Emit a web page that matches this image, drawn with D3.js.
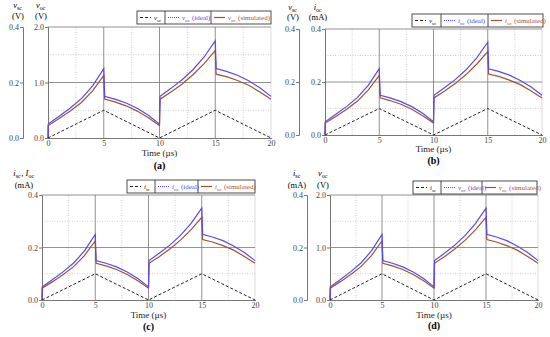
<!DOCTYPE html>
<html>
<head>
<meta charset="utf-8">
<script src="https://cdn.jsdelivr.net/npm/d3@7"></script>
<style>
  body { margin: 0; background: #fff; }
  svg { font-family: 'Liberation Serif', 'DejaVu Serif', serif; }
</style>
</head>
<body>
<div id="chart"></div>
<script>
// time grid (µs)
const time = [0, 0.02, 1, 2, 3, 4, 5, 5.08, 6, 7, 8, 9, 10, 10.05, 11, 12, 13, 14, 15, 15.08, 16, 17, 18, 19, 20];
const xTicks = [0, 5, 10, 15, 20];

// short-circuit source (triangle), in V for v_sc and in mA for i_sc (same shape)
const scTime = [0, 5, 10, 15, 20];
const scValues = [0, 0.1, 0, 0.1, 0];

// open-circuit current (mA)
const iocIdeal = [0, 0.05, 0.078, 0.108, 0.142, 0.188, 0.25, 0.15, 0.14, 0.126, 0.107, 0.082, 0.05, 0.15, 0.178, 0.209, 0.246, 0.292, 0.35, 0.25, 0.24, 0.226, 0.206, 0.181, 0.15];
const iocSim = [0, 0.045, 0.07, 0.097, 0.128, 0.17, 0.225, 0.14, 0.13, 0.116, 0.097, 0.073, 0.045, 0.14, 0.165, 0.194, 0.228, 0.268, 0.315, 0.23, 0.221, 0.207, 0.19, 0.166, 0.14];

// open-circuit voltage (V)
const vocIdeal = [0, 0.25, 0.39, 0.54, 0.71, 0.94, 1.25, 0.75, 0.7, 0.63, 0.535, 0.41, 0.25, 0.75, 0.89, 1.045, 1.23, 1.46, 1.75, 1.25, 1.2, 1.13, 1.03, 0.905, 0.75];
const vocSim = [0, 0.225, 0.35, 0.485, 0.64, 0.85, 1.125, 0.7, 0.65, 0.58, 0.485, 0.365, 0.225, 0.7, 0.825, 0.97, 1.14, 1.34, 1.575, 1.15, 1.105, 1.035, 0.95, 0.83, 0.7];

const outerTicks = [0, 0.2, 0.4];
const voltTicks = [0, 1.0, 2.0];
const mATicks = [0, 0.2, 0.4];

const blue = '#5a4ae6', brown = '#9b5533';
const serif = "'Liberation Serif', 'DejaVu Serif', serif";

const svg = d3.select('#chart').append('svg').attr('width', 550).attr('height', 337);

// parts: strings or [main, sub]
function sym(g, parts, size) {
  parts.forEach((p) => {
    if (typeof p === 'string') {
      g.append('tspan').text(p);
    } else {
      g.append('tspan').style('font-style', 'italic').text(p[0]);
      g.append('tspan').attr('dy', size * 0.25).style('font-size', size * 0.7 + 'px').text(p[1]);
      g.append('tspan').attr('dy', -size * 0.25).text('\u200a');
    }
  });
}

const panels = [
  { x0: 48, x1: 271, yTop: 27, yBot: 138, outerX: 23, inner: [0, 2], innerTicks: voltTicks,
    ideal: vocIdeal, sim: vocSim, outerLabel: [['v', 'sc']], outerUnit: '(V)', innerLabel: [['v', 'oc']], innerUnit: '(V)',
    labX: [18, 41], labY: [8, 19],
    legend: { x: 137, y: 11, w: 134, h: 13, d: [165, 211] }, leg: ['v', 'oc'], scSym: ['v', 'sc'],
    timeY: 156, tagY: 169, tag: '(a)' },
  { x0: 325, x1: 542, yTop: 29, yBot: 135, outerX: 299, inner: [0, 0.4], innerTicks: mATicks,
    ideal: iocIdeal, sim: iocSim, outerLabel: [['v', 'sc']], outerUnit: '(V)', innerLabel: [['i', 'oc']], innerUnit: '(mA)',
    labX: [293, 318], labY: [10, 20],
    legend: { x: 412, y: 14, w: 131, h: 13, d: [441, 488] }, leg: ['i', 'oc'], scSym: ['v', 'sc'],
    timeY: 152, tagY: 164, tag: '(b)' },
  { x0: 42, x1: 255, yTop: 195, yBot: 300, outerX: null, inner: [0, 0.4], innerTicks: mATicks,
    ideal: iocIdeal, sim: iocSim, outerLabel: null, innerLabel: [['i', 'sc'], ', ', ['I', 'oc']], innerUnit: '(mA)',
    labX: [null, 24], labY: [176, 188],
    legend: { x: 127, y: 180, w: 128, h: 13, d: [155, 198] }, leg: ['i', 'oc'], scSym: ['i', 'sc'],
    timeY: 318, tagY: 330, tag: '(c)' },
  { x0: 330, x1: 538, yTop: 195, yBot: 300, outerX: 307, inner: [0, 2], innerTicks: voltTicks,
    ideal: vocIdeal, sim: vocSim, outerLabel: [['i', 'sc']], outerUnit: '(mA)', innerLabel: [['v', 'oc']], innerUnit: '(V)',
    labX: [297, 323], labY: [176, 188],
    legend: { x: 413, y: 181, w: 124, h: 13, d: [441, 482] }, leg: ['v', 'oc'], scSym: ['i', 'sc'],
    timeY: 318, tagY: 329, tag: '(d)' },
];

function styleAxis(a) {
  a.attr('font-family', serif).attr('font-size', 8);
  a.select('.domain').attr('stroke', '#777');
  a.selectAll('.tick line').attr('stroke', '#777');
  a.selectAll('.tick text').attr('fill', '#444');
}

panels.forEach((p) => {
  const g = svg.append('g');
  const x = d3.scaleLinear().domain([0, 20]).range([p.x0, p.x1]);
  const yIn = d3.scaleLinear().domain(p.inner).range([p.yBot, p.yTop]);
  const yOut = d3.scaleLinear().domain([0, 0.4]).range([p.yBot, p.yTop]);

  // minor dotted grid
  const xMinor = [2.5, 7.5, 12.5, 17.5];
  const yMinor = [0.25, 0.75].map((f) => p.inner[1] * f);
  g.selectAll('.gx').data(xMinor).join('line')
    .attr('x1', (d) => x(d)).attr('x2', (d) => x(d)).attr('y1', p.yTop).attr('y2', p.yBot)
    .attr('stroke', '#bbb').attr('stroke-width', 0.7).attr('stroke-dasharray', '1,1.5');
  g.selectAll('.gy').data(yMinor).join('line')
    .attr('x1', p.x0).attr('x2', p.x1).attr('y1', (d) => yIn(d)).attr('y2', (d) => yIn(d))
    .attr('stroke', '#bbb').attr('stroke-width', 0.7).attr('stroke-dasharray', '1,1.5');
  // right border
  g.append('line').attr('x1', p.x1).attr('x2', p.x1).attr('y1', p.yTop).attr('y2', p.yBot)
    .attr('stroke', '#ccc').attr('stroke-width', 0.7);
  // major grid
  g.selectAll('.mx').data([5, 10, 15]).join('line')
    .attr('x1', (d) => x(d)).attr('x2', (d) => x(d)).attr('y1', p.yTop).attr('y2', p.yBot)
    .attr('stroke', '#777').attr('stroke-width', 0.8);
  g.selectAll('.my').data([p.inner[1] / 2, p.inner[1]]).join('line')
    .attr('x1', p.x0).attr('x2', p.x1).attr('y1', (d) => yIn(d)).attr('y2', (d) => yIn(d))
    .attr('stroke', '#777').attr('stroke-width', 0.8);

  // axes
  const ax = g.append('g').attr('transform', `translate(0,${p.yBot})`)
    .call(d3.axisBottom(x).tickValues(xTicks).tickSize(1).tickPadding(1));
  styleAxis(ax);

  const ay = g.append('g').attr('transform', `translate(${p.x0},0)`)
    .call(d3.axisLeft(yIn).tickValues(p.innerTicks).tickFormat(d3.format('.1f')).tickSize(3).tickPadding(1));
  styleAxis(ay);

  if (p.outerX !== null) {
    const ao = g.append('g').attr('transform', `translate(${p.outerX},0)`)
      .call(d3.axisLeft(yOut).tickValues(outerTicks).tickFormat(d3.format('.1f')).tickSize(3).tickPadding(1));
    styleAxis(ao);
  }

  // curves
  const line = d3.line().x((d) => x(d[0])).y((d) => yIn(d[1]));
  const lineOut = d3.line().x((d) => x(d[0])).y((d) => yOut(d[1]));
  g.append('path').datum(d3.zip(time, p.sim)).attr('d', line)
    .attr('fill', 'none').attr('stroke', brown).attr('stroke-width', 1.2);
  g.append('path').datum(d3.zip(time, p.ideal)).attr('d', line)
    .attr('fill', 'none').attr('stroke', blue).attr('stroke-width', 1.2);
  g.append('path').datum(d3.zip(scTime, scValues)).attr('d', lineOut)
    .attr('fill', 'none').attr('stroke', '#222').attr('stroke-width', 1).attr('stroke-dasharray', '3,2');

  // axis titles
  const fs = 8.5;
  if (p.outerLabel) {
    sym(g.append('text').attr('x', p.labX[0]).attr('y', p.labY[0]).attr('text-anchor', 'middle').style('font-size', fs + 'px'), p.outerLabel, fs);
    g.append('text').attr('x', p.labX[0]).attr('y', p.labY[1]).attr('text-anchor', 'middle').style('font-size', fs + 'px').text(p.outerUnit);
  }
  sym(g.append('text').attr('x', p.labX[1]).attr('y', p.labY[0]).attr('text-anchor', 'middle').style('font-size', fs + 'px'), p.innerLabel, fs);
  g.append('text').attr('x', p.labX[1]).attr('y', p.labY[1]).attr('text-anchor', 'middle').style('font-size', fs + 'px').text(p.innerUnit);

  // x title + tag
  const cx = (p.x0 + p.x1) / 2;
  g.append('text').attr('x', cx).attr('y', p.timeY).attr('text-anchor', 'middle').style('font-size', '9px').attr('fill', '#222').text('Time (\u00b5s)');
  g.append('text').attr('x', cx).attr('y', p.tagY).attr('text-anchor', 'middle').style('font-size', '10px').style('font-weight', 'bold').text(p.tag);

  // legend
  const L = p.legend;
  const lg = g.append('g');
  lg.append('rect').attr('x', L.x).attr('y', L.y).attr('width', L.w).attr('height', L.h)
    .attr('fill', '#fff').attr('stroke', '#222').attr('stroke-width', 0.8);
  L.d.forEach((dx) => lg.append('line').attr('x1', dx).attr('x2', dx).attr('y1', L.y).attr('y2', L.y + L.h)
    .attr('stroke', '#222').attr('stroke-width', 0.8));
  const my = L.y + L.h / 2;
  const cells = [
    { x: L.x, stroke: '#222', dash: '3,2', sw: 1, col: '#222', parts: [p.scSym] },
    { x: L.d[0], stroke: blue, dash: '1,1', sw: 1.2, col: blue, parts: [p.leg, ' (ideal)'] },
    { x: L.d[1], stroke: brown, dash: null, sw: 1.2, col: '#b0503a', parts: [p.leg, ' (simulated)'] },
  ];
  cells.forEach((c) => {
    lg.append('line').attr('x1', c.x + 3).attr('x2', c.x + 14).attr('y1', my).attr('y2', my)
      .attr('stroke', c.stroke).attr('stroke-width', c.sw).attr('stroke-dasharray', c.dash);
    sym(lg.append('text').attr('x', c.x + 17).attr('y', my + 2.4).style('font-size', '7px').attr('fill', c.col), c.parts, 7);
  });
});
</script>
</body>
</html>
